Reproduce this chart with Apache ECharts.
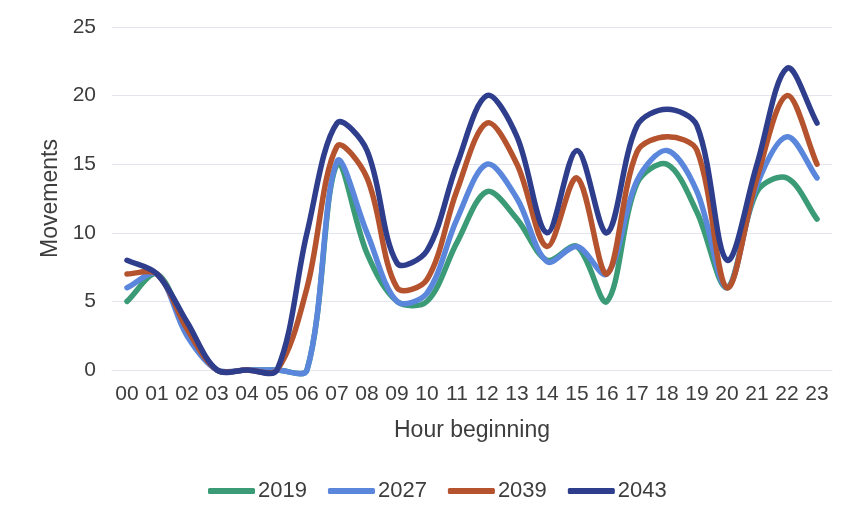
<!DOCTYPE html>
<html>
<head>
<meta charset="utf-8">
<style>
  html, body { margin: 0; padding: 0; background: #ffffff; }
  #chart { width: 851px; height: 519px; }
</style>
<script src="https://cdn.jsdelivr.net/npm/echarts@6/dist/echarts.min.js"></script>
</head>
<body>
<div id="chart"></div>
<script>
// Hour-of-day categories
var hours = ['00','01','02','03','04','05','06','07','08','09','10','11',
             '12','13','14','15','16','17','18','19','20','21','22','23'];

// Movements per hour for each forecast year
var y2019 = [5, 7, 3, 0, 0, 0, 0, 15, 8.5, 5, 5, 9.3, 13, 11, 8, 9, 5, 13.6, 15, 11.5, 6, 13, 14, 11];
var y2027 = [6, 7, 2.5, 0, 0, 0, 0, 15.2, 10, 5, 5.6, 11, 15, 12.5, 7.9, 9, 7, 13.8, 16, 13, 6, 13.5, 17, 14];
var y2039 = [7, 7, 3, 0, 0, 0, 6, 16.3, 14, 6, 6.6, 13.1, 18, 15, 9, 14, 7, 15.9, 17, 16, 6, 14, 20, 15];
var y2043 = [8, 7, 3.5, 0, 0, 0, 10, 18, 16, 7.8, 8.7, 15, 20, 17, 10, 16, 10, 17.8, 19, 17.8, 8, 15, 22, 18];

var seriesNames = ['2019', '2027', '2039', '2043'];
var seriesColors = ['#3b9b76', '#5a86dc', '#b4532e', '#2e3e8c'];
var seriesData = [y2019, y2027, y2039, y2043];

// Y axis range and step
var yMin = 0, yMax = 25, yStep = 5;

var textColor = '#3d3d3d';
var gridColor = '#e4e4ee';
var fontFamily = '"Liberation Sans", Arial, sans-serif';

function dist(a, b) {
  var dx = a[0] - b[0], dy = a[1] - b[1];
  return Math.sqrt(dx * dx + dy * dy);
}

// Smooth curve through every point: cubic Bezier segments whose handles follow
// the neighbour-to-neighbour tangent, scaled by the relative chord lengths.
// Point positions come from the chart's own coordinate system.
function smoothPath(api, values) {
  var pts = values.map(function (v, i) { return api.coord([i, v]); });
  var n = pts.length;
  var d = 'M' + pts[0][0] + ' ' + pts[0][1];
  for (var i = 0; i < n - 1; i++) {
    var p0 = pts[i - 1] || pts[i];
    var p1 = pts[i];
    var p2 = pts[i + 1];
    var p3 = pts[i + 2] || pts[i + 1];
    var d01 = dist(p0, p1), d12 = dist(p1, p2), d23 = dist(p2, p3);
    var f1 = d12 / ((d01 + d12) || 1) / 3;
    var f2 = d12 / ((d12 + d23) || 1) / 3;
    var c1x = p1[0] + (p2[0] - p0[0]) * f1;
    var c1y = p1[1] + (p2[1] - p0[1]) * f1;
    var c2x = p2[0] - (p3[0] - p1[0]) * f2;
    var c2y = p2[1] - (p3[1] - p1[1]) * f2;
    d += ' C' + c1x + ' ' + c1y + ' ' + c2x + ' ' + c2y + ' ' + p2[0] + ' ' + p2[1];
  }
  return d;
}

var chart = echarts.init(document.getElementById('chart'));

chart.setOption({
  backgroundColor: '#ffffff',
  animation: false,
  color: seriesColors,
  textStyle: { fontFamily: fontFamily },
  grid: { left: 112, right: 19, top: 27, bottom: 149 },
  legend: {
    data: seriesNames,
    bottom: 12,
    left: 203,
    icon: 'roundRect',
    itemWidth: 47,
    itemHeight: 6,
    itemGap: 21,
    textStyle: { color: textColor, fontSize: 22, fontFamily: fontFamily, padding: [0, 0, 0, -2] }
  },
  xAxis: {
    type: 'category',
    data: hours,
    boundaryGap: true,
    name: 'Hour beginning',
    nameLocation: 'middle',
    nameGap: 49,
    nameTextStyle: { color: textColor, fontSize: 23, fontFamily: fontFamily },
    axisLine: { show: true, lineStyle: { color: gridColor, width: 1 } },
    axisTick: { show: false },
    axisLabel: { interval: 0, color: textColor, fontSize: 21, margin: 14, fontFamily: fontFamily }
  },
  yAxis: {
    type: 'value',
    min: yMin,
    max: yMax,
    interval: yStep,
    name: 'Movements',
    nameLocation: 'middle',
    nameGap: 46,
    nameTextStyle: { color: textColor, fontSize: 23, fontFamily: fontFamily },
    axisLine: { show: false },
    axisTick: { show: false },
    axisLabel: { color: textColor, fontSize: 21, margin: 16, fontFamily: fontFamily },
    splitLine: { lineStyle: { color: gridColor, width: 1 } }
  },
  series: seriesNames.map(function (name, si) {
    return {
      name: name,
      type: 'custom',
      coordinateSystem: 'cartesian2d',
      clip: false,
      z: 2 + si,
      itemStyle: { color: seriesColors[si] },
      encode: { x: 0, y: 1 },
      data: seriesData[si].map(function (v, j) { return [j, v]; }),
      renderItem: function (params, api) {
        if (params.dataIndex !== 0) {
          return null;
        }
        return {
          type: 'path',
          shape: { pathData: smoothPath(api, seriesData[si]) },
          style: {
            fill: 'none',
            stroke: seriesColors[si],
            lineWidth: 5.5,
            lineCap: 'round',
            lineJoin: 'round'
          }
        };
      }
    };
  })
});
</script>
</body>
</html>
